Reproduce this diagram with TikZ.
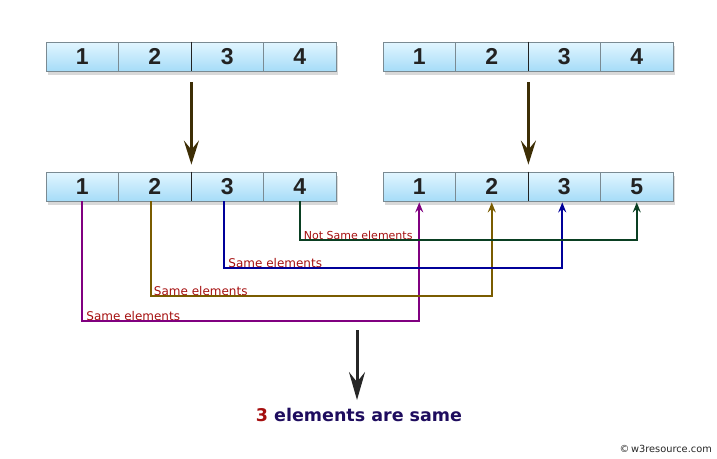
\documentclass[tikz,border=0pt]{standalone}
\usepackage{fontspec}
\newfontfamily\numfont{Liberation Sans}
\newfontfamily\lblfont{DejaVu Sans}
\usetikzlibrary{arrows.meta,shadows}

\definecolor{cellTop}{HTML}{E2F6FF}
\definecolor{cellBot}{HTML}{A6DCF8}
\definecolor{cellLine}{HTML}{7A8A92}
\definecolor{digit}{HTML}{222222}
\definecolor{arrBrown}{HTML}{3D2E05}
\definecolor{lnPurple}{HTML}{800080}
\definecolor{lnBrown}{HTML}{7A5C00}
\definecolor{lnBlue}{HTML}{000099}
\definecolor{lnGreen}{HTML}{0A3F22}
\definecolor{lblRed}{HTML}{A50F0F}
\definecolor{navy}{HTML}{1E0C5E}

\begin{document}
\begin{tikzpicture}[x=1pt, y=-1pt,
  cell/.style={draw=cellLine, line width=0.8pt, top color=cellTop, bottom color=cellBot,
    minimum width=72.5pt, minimum height=29pt, inner sep=0pt,
    font=\numfont\fontsize{23}{23}\selectfont\bfseries, text=digit,
    drop shadow={shadow xshift=2pt, shadow yshift=-4pt, opacity=0.3}},
  bigarrow/.style={arrBrown, line width=3pt, -{Stealth[length=24pt,width=15pt,inset=9pt]}},
  link/.style={line width=2pt, -{Stealth[length=10pt,width=8pt,inset=3.5pt]}, shorten >=1pt},
  lbl/.style={font=\lblfont\fontsize{12}{12}\selectfont, text=lblRed, inner sep=1pt, anchor=south west}
]
%\draw [lightgray](0,0) grid (717,458);
\useasboundingbox (0,0) rectangle (717,458);

% first pair
\node[cell] (a1) at (82.25,56.5) {1};
\node[cell] (a2) at (154.75,56.5) {2};
\node[cell] (a3) at (227.25,56.5) {3};
\node[cell] (a4) at (299.75,56.5) {4};

\node[cell] (b1) at (419.25,56.5) {1};
\node[cell] (b2) at (491.75,56.5) {2};
\node[cell] (b3) at (564.25,56.5) {3};
\node[cell] (b4) at (636.75,56.5) {4};

% second pair
\node[cell] (c1) at (82.25,186.5) {1};
\node[cell] (c2) at (154.75,186.5) {2};
\node[cell] (c3) at (227.25,186.5) {3};
\node[cell] (c4) at (299.75,186.5) {4};

\node[cell] (d1) at (419.25,186.5) {1};
\node[cell] (d2) at (491.75,186.5) {2};
\node[cell] (d3) at (564.25,186.5) {3};
\node[cell] (d4) at (636.75,186.5) {5};

% middle dividers
\draw [digit, line width=1pt](a2.north east) -- (a2.south east);
\draw [digit, line width=1pt](b2.north east) -- (b2.south east);
\draw [digit, line width=1pt](c2.north east) -- (c2.south east);
\draw [digit, line width=1pt](d2.north east) -- (d2.south east);

\draw [bigarrow, shorten <=11pt, shorten >=7pt](a2.south east) -- (c2.north east);
\draw [bigarrow, shorten <=11pt, shorten >=7pt](b2.south east) -- (d2.north east);

% links
\draw [link, lnPurple](c1.south) -- ++(0,120) coordinate (p1) -| (d1.south);
\node[lbl] (l1) at ([xshift=3pt]p1) {Same elements};

\draw [link, lnBrown](c2.south) ++(-4,0) -- ++(0,95) coordinate (p2) -| (d2.south);
\node[lbl] (l2) at ([xshift=2pt]p2) {Same elements};

\draw [link, lnBlue](c3.south) ++(-3,0) -- ++(0,67) coordinate (p3) -| ([xshift=-2pt]d3.south);
\node[lbl] (l3) at ([xshift=3pt]p3) {Same elements};

\draw [link, lnGreen](c4.south) -- ++(0,39) coordinate (p4) -| (d4.south);
\node[lbl, font=\lblfont\fontsize{11}{11}\selectfont] (l4) at ([xshift=3pt]p4) {Not Same elements};

% result
\coordinate (r0) at (357,330);
\node[font=\lblfont\fontsize{17.5}{17.5}\selectfont\bfseries, text=navy, inner sep=0pt] (res) at (359,415)
  {\textcolor{lblRed}{3} elements are same};
\draw [line width=3pt, black!85, -{Stealth[length=28pt,width=16pt,inset=10pt]}, shorten >=8pt](r0) -- (res.north -| r0);

\node[font=\lblfont\fontsize{9.8}{9.8}\selectfont, text=black!85, anchor=east, inner sep=0pt] (wm) at (712,449) {©\,w3resource.com};

\end{tikzpicture}
\end{document}
